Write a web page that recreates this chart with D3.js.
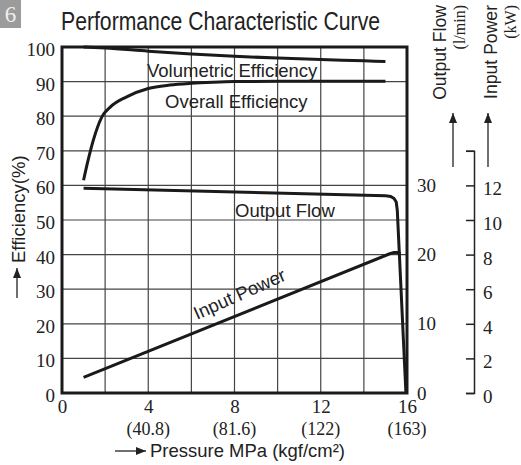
<!DOCTYPE html>
<html>
<head>
<meta charset="utf-8">
<script src="https://cdn.jsdelivr.net/npm/d3@7"></script>
<style>
  body { margin: 0; background: #fff; }
  svg { display: block; }
  .serif { font-family: "Liberation Serif", serif; }
  .sans { font-family: "Liberation Sans", Arial, sans-serif; }
</style>
</head>
<body>
<div id="chart"></div>
<script>
// pressure axis (MPa) and the kgf/cm2 equivalents
const pressureTicks = [0, 4, 8, 12, 16];
const kgfLabels = ['(40.8)', '(81.6)', '(122)', '(163)'];
const effTicks = [0, 10, 20, 30, 40, 50, 60, 70, 80, 90, 100];
const flowTicks = [0, 10, 20, 30];
const powerTicks = [0, 2, 4, 6, 8, 10, 12, 14];

// curves
const volPressure = [1, 2, 4, 6, 8, 10, 12, 14, 15];
const volEff = [100, 99.7, 98.8, 98.0, 97.3, 96.8, 96.4, 96.0, 95.8];

const overallPressure = [1, 1.2, 1.45, 1.85, 2.25, 3, 4, 5, 6, 7, 8, 10, 12, 15];
const overallEff = [61.5, 67, 73, 79.8, 82.7, 85.6, 88, 89, 89.5, 89.8, 90, 90.1, 90.1, 90.1];

const flowPressure = [1, 15, 15.25, 15.4, 15.5, 15.55, 15.95];
const flowLpm = [29.6, 28.5, 28.4, 28.1, 27.6, 26.4, 0];

const powerPressure = [1, 15.2, 15.4, 15.55, 15.7];
const powerKw = [0.9, 8.05, 8.12, 8.12, 8.05];

const width = 521, height = 465;
const plot = { left: 62, right: 407, top: 47, bottom: 393 };

const svg = d3.select('#chart').append('svg')
  .attr('width', width)
  .attr('height', height);

const x = d3.scaleLinear().domain([0, 16]).range([plot.left, plot.right]);
const y = d3.scaleLinear().domain([0, 100]).range([plot.bottom, plot.top]);
const yFlow = d3.scaleLinear().domain([0, 50]).range([plot.bottom, plot.top]);
const yPower = d3.scaleLinear().domain([0, 20]).range([plot.bottom, plot.top]);

const defs = svg.append('defs');
defs.append('marker')
  .attr('id', 'arrow')
  .attr('viewBox', '0 0 10 8')
  .attr('refX', 10).attr('refY', 4)
  .attr('markerWidth', 10).attr('markerHeight', 8)
  .attr('markerUnits', 'userSpaceOnUse')
  .attr('orient', 'auto')
  .append('path').attr('d', 'M0,0 L10,4 L0,8 Z').attr('fill', '#222');

// page badge
svg.append('rect').attr('x', 0).attr('y', 0).attr('width', 21).attr('height', 28).attr('fill', '#9b9b9b');
svg.append('text').attr('class', 'serif').attr('x', 10.5).attr('y', 22)
  .attr('text-anchor', 'middle')
  .attr('font-size', 23).attr('fill', '#eee').text('6');

svg.append('text').attr('class', 'sans')
  .attr('x', 61).attr('y', 30)
  .attr('font-size', 25).attr('fill', '#222')
  .attr('textLength', 319).attr('lengthAdjust', 'spacingAndGlyphs')
  .text('Performance Characteristic Curve');

// grid
const grid = svg.append('g').attr('stroke', '#444').attr('stroke-width', 1.2);
grid.selectAll('.v').data(d3.range(2, 16, 2)).join('line')
  .attr('x1', d => x(d)).attr('x2', d => x(d))
  .attr('y1', plot.top).attr('y2', plot.bottom);
grid.selectAll('.h').data(effTicks.slice(1, -1)).join('line')
  .attr('y1', d => y(d)).attr('y2', d => y(d))
  .attr('x1', plot.left).attr('x2', plot.right);

// axes
function styleAxis(g, size) {
  g.selectAll('text').attr('class', 'serif').attr('font-size', size).attr('fill', '#222');
  g.selectAll('.tick line').attr('stroke', '#222').attr('stroke-width', 1.5);
  g.select('.domain').attr('stroke', '#222').attr('stroke-width', 1.5);
}

const gLeft = svg.append('g').attr('transform', `translate(${plot.left},0)`)
  .call(d3.axisLeft(y).tickValues(effTicks).tickSize(0).tickPadding(7));
gLeft.select('.domain').remove();
styleAxis(gLeft, 19);
gLeft.selectAll('text').attr('dy', '0.45em');

const gBottom = svg.append('g').attr('transform', `translate(0,${plot.bottom})`)
  .call(d3.axisBottom(x).tickValues(pressureTicks).tickSize(0).tickPadding(7));
gBottom.select('.domain').remove();
styleAxis(gBottom, 19);

svg.append('g').selectAll('text').data(kgfLabels).join('text')
  .attr('class', 'serif')
  .attr('x', (d, i) => x(pressureTicks[i + 1]))
  .attr('y', 435)
  .attr('text-anchor', 'middle')
  .attr('font-size', 18).attr('fill', '#222')
  .text(d => d);

const gFlow = svg.append('g').attr('transform', `translate(${plot.right},0)`)
  .call(d3.axisRight(yFlow).tickValues(flowTicks).tickSize(0).tickPadding(10));
gFlow.select('.domain').remove();
styleAxis(gFlow, 19);

const powerAxisScale = d3.scaleLinear().domain([0, 14]).range([yPower(0), yPower(14)]);
const gPower = svg.append('g').attr('transform', 'translate(474,0)')
  .call(d3.axisRight(powerAxisScale).tickValues(powerTicks)
    .tickSizeInner(-8).tickSizeOuter(-8).tickPadding(9)
    .tickFormat(d => d === 14 ? '' : d));
styleAxis(gPower, 19);
gPower.selectAll('text').attr('dy', '0.5em');

// plot frame
svg.append('rect')
  .attr('x', plot.left).attr('y', plot.top)
  .attr('width', plot.right - plot.left).attr('height', plot.bottom - plot.top)
  .attr('fill', 'none').attr('stroke', '#1a1a1a').attr('stroke-width', 3);

// curves
const curves = svg.append('g').attr('fill', 'none').attr('stroke', '#1a1a1a')
  .attr('stroke-width', 3).attr('stroke-linejoin', 'round');

const effLine = d3.line().x(d => x(d[0])).y(d => y(d[1])).curve(d3.curveMonotoneX);
curves.append('path').attr('d', effLine(d3.zip(volPressure, volEff)));
curves.append('path').attr('d', effLine(d3.zip(overallPressure, overallEff)));

const flowLine = d3.line().x(d => x(d[0])).y(d => yFlow(d[1]));
curves.append('path').attr('d', flowLine(d3.zip(flowPressure, flowLpm)));

const powerLine = d3.line().x(d => x(d[0])).y(d => yPower(d[1]));
curves.append('path').attr('d', powerLine(d3.zip(powerPressure, powerKw)));

// curve labels
const labels = svg.append('g').attr('class', 'sans').attr('font-size', 18.5).attr('fill', '#222');
labels.append('text').attr('x', 147).attr('y', 77).text('Volumetric Efficiency');
labels.append('text').attr('x', 165).attr('y', 108).text('Overall Efficiency');
labels.append('text').attr('x', 235).attr('y', 217).text('Output Flow');
labels.append('text').attr('transform', 'translate(197,320) rotate(-24)').text('Input Power');

// axis titles
svg.append('text').attr('class', 'sans')
  .attr('transform', 'translate(25,263) rotate(-90)')
  .attr('font-size', 18.5).attr('fill', '#222')
  .text('Efficiency(%)');
svg.append('line').attr('x1', 17).attr('x2', 17).attr('y1', 298).attr('y2', 268)
  .attr('stroke', '#222').attr('stroke-width', 1.3).attr('marker-end', 'url(#arrow)');

svg.append('line').attr('x1', 115).attr('x2', 146).attr('y1', 451).attr('y2', 451)
  .attr('stroke', '#222').attr('stroke-width', 1.3).attr('marker-end', 'url(#arrow)');
svg.append('text').attr('class', 'sans')
  .attr('x', 150).attr('y', 457)
  .attr('font-size', 18.5).attr('fill', '#222')
  .attr('textLength', 195).attr('lengthAdjust', 'spacingAndGlyphs')
  .text('Pressure MPa (kgf/cm²)');

const rightTitles = [
  { text: 'Output Flow', x: 446, cls: 'sans', size: 17.6 },
  { text: '(l/min)', x: 465, cls: 'serif', size: 16 },
  { text: 'Input Power', x: 497, cls: 'sans', size: 17.6 },
  { text: '(kW)', x: 516, cls: 'serif', size: 16 }
];
svg.append('g').selectAll('text').data(rightTitles).join('text')
  .attr('class', d => d.cls)
  .attr('transform', d => `translate(${d.x},5) rotate(-90)`)
  .attr('text-anchor', 'end')
  .attr('font-size', d => d.size).attr('fill', '#222')
  .text(d => d.text);

svg.append('g').selectAll('line').data([453, 488]).join('line')
  .attr('x1', d => d).attr('x2', d => d).attr('y1', 167).attr('y2', 113)
  .attr('stroke', '#222').attr('stroke-width', 1.3).attr('marker-end', 'url(#arrow)');
</script>
</body>
</html>
